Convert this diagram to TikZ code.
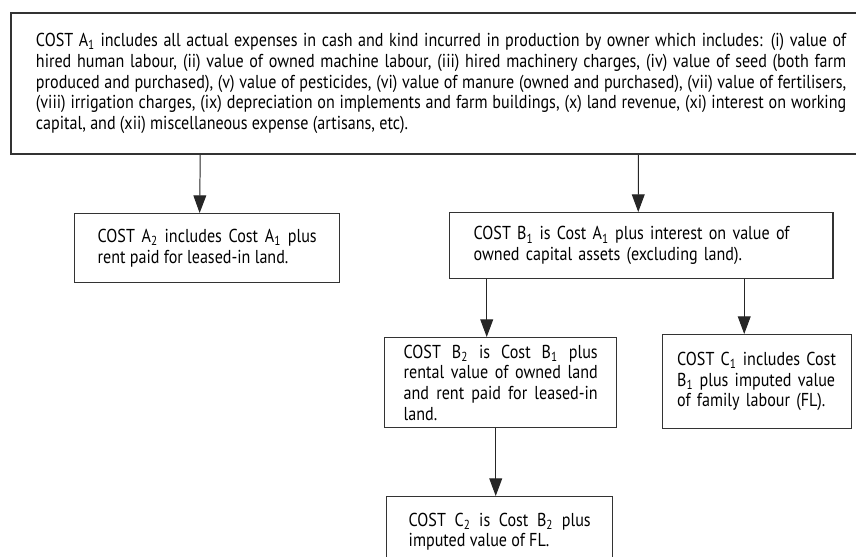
\documentclass[tikz,border=0pt]{standalone}
\usepackage{fontspec}
\setmainfont{PT Sans}[FakeStretch=0.86]
\usetikzlibrary{arrows.meta}
\hyphenpenalty=10000
\exhyphenpenalty=10000
\tikzset{
  costbox/.style={draw=black!80, line width=1pt, anchor=north west, align=justify,
    font=\fontsize{13.3}{14.7}\selectfont, inner ysep=0pt},
  costarrow/.style={draw=black!85, line width=0.7pt, -{Triangle[width=0.32cm,length=0.44cm]}}
}
\newcommand{\sub}[1]{\textsubscript{#1}}

\begin{document}
\begin{tikzpicture}[x=0.025cm,y=-0.025cm]
		%\draw[help lines] (0,0) grid (856,557);
		\useasboundingbox (0,0) rectangle (856,557);
		\clip (0,0) rectangle (856,557);
		\fill[white] (0,0) rectangle (856,557);
		
		% all actual expenses
		\node[costbox, line width=1.4pt, inner xsep=0.525cm, text width=20.25cm, minimum width=21.5cm, minimum height=3.525cm] (costA1) at (10,12)
		{COST A\sub{1} includes all actual expenses in cash and kind incurred in production by owner which includes: (i) value of\linebreak
		hired human labour, (ii) value of owned machine labour, (iii) hired machinery charges, (iv) value of seed (both farm\linebreak
		produced and purchased), (v) value of pesticides, (vi) value of manure (owned and purchased), (vii) value of fertilisers,\linebreak
		(viii) irrigation charges, (ix) depreciation on implements and farm buildings, (x) land revenue, (xi) interest on working\linebreak
		capital, and (xii) miscellaneous expense (artisans, etc).};
		
		\node[costbox, inner xsep=0.575cm, text width=5.475cm, minimum width=6.625cm, minimum height=1.725cm] (costA2) at (74,213)
		{COST A\sub{2} includes Cost A\sub{1} plus\linebreak rent paid for leased-in land.};
		
		\node[costbox, align=left, inner xsep=0.6cm, text width=8.375cm, minimum width=9.575cm, minimum height=1.65cm] (costB1) at (449,212)
		{COST B\sub{1} is Cost A\sub{1} plus interest on value of\\ owned capital assets (excluding land).};
		
		\node[costbox, inner xsep=0.475cm, text width=4.85cm, minimum width=5.8cm, minimum height=2.25cm] (costB2) at (384,337)
		{COST B\sub{2} is Cost B\sub{1} plus\linebreak rental value of owned land\linebreak and rent paid for leased-in\linebreak land.};
		
		\node[costbox, align=left, inner xsep=0.35cm, text width=4.0cm, minimum width=4.725cm, minimum height=2.35cm] (costC1) at (662,334)
		{COST C\sub{1} includes Cost\\ B\sub{1} plus imputed value\\ of family labour (FL).};
		
		\node[costbox, inner xsep=0.55cm, text width=4.55cm, minimum width=5.65cm, minimum height=1.75cm] (costC2) at (386,496)
		{COST C\sub{2} is Cost B\sub{2} plus\linebreak imputed value of FL.};
		
		% arrows
		\draw[costarrow] (costA1.south -| costA2.north) ++(-7,0) -- ([xshift=-0.19cm]costA2.north);
		\draw[costarrow] (costA1.south -| costB1.north) ++(-3,0) -- ([xshift=-0.075cm]costB1.north);
		\draw[costarrow] ([xshift=-0.35cm]costB1.south -| costB2.north) -- ([xshift=-0.35cm]costB2.north);
		\draw[costarrow] ([xshift=-0.325cm]costB1.south -| costC1.north) -- ([xshift=-0.325cm]costC1.north);
		\draw[costarrow] ([xshift=-0.1cm]costB2.south -| costC2.north) -- ([xshift=-0.1cm]costC2.north);
\end{tikzpicture}
\end{document}
